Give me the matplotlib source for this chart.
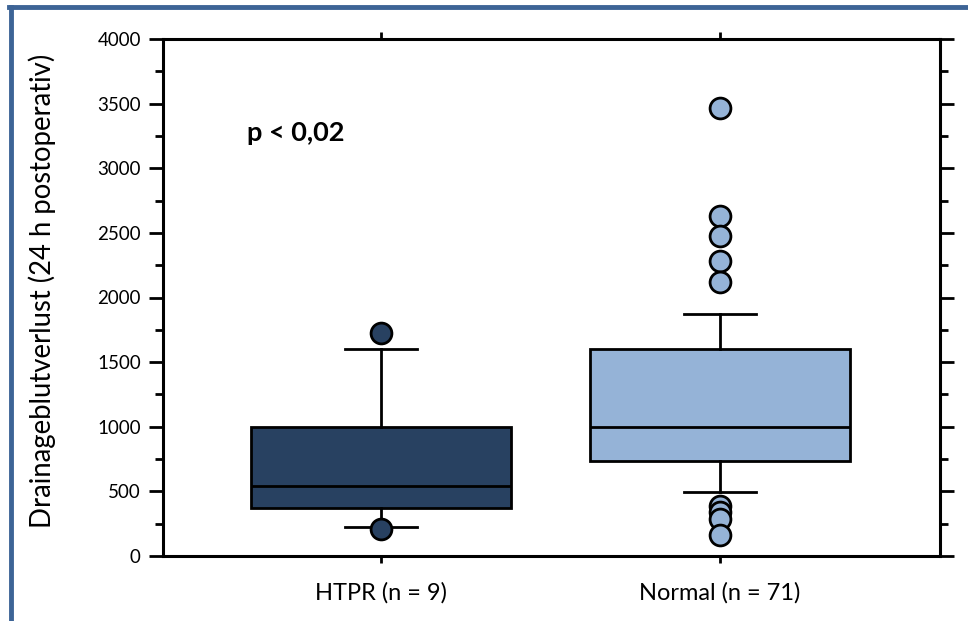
import matplotlib
matplotlib.use("Agg")
import matplotlib.pyplot as plt
from matplotlib.ticker import MultipleLocator

# ---- data ----
categories = ["HTPR (n = 9)", "Normal (n = 71)"]
q1 = [373, 733]
median = [540, 1000]
q3 = [1000, 1604]
whisker_low = [226, 497]
whisker_high = [1604, 1874]
outliers = [
    [208, 1727],
    [3470, 2633, 2473, 2286, 2118, 390, 340, 283, 165],
]
box_colors = ["#284161", "#95b3d7"]
yticks = [0, 500, 1000, 1500, 2000, 2500, 3000, 3500, 4000]
ylabel = "Drainageblutverlust (24 h postoperativ)"
annotation = "p < 0,02"

plt.rcParams["font.family"] = ["Lato", "DejaVu Sans"]

fig = plt.figure(figsize=(9.68, 6.21), dpi=100)
ax = fig.add_axes([163 / 968, 1 - 556 / 621, (940 - 163) / 968, (556 - 39) / 621])

positions = [1, 2]
stats = []
for i in range(2):
    stats.append(dict(med=median[i], q1=q1[i], q3=q3[i],
                      whislo=whisker_low[i], whishi=whisker_high[i],
                      fliers=outliers[i], label=categories[i]))
res = ax.bxp(stats, positions=positions, widths=0.767, patch_artist=True,
             showfliers=False, capwidths=0.212, manage_ticks=False,
             boxprops=dict(linewidth=2.0, edgecolor="black"),
             medianprops=dict(color="black", linewidth=2.0),
             whiskerprops=dict(color="black", linewidth=2.0),
             capprops=dict(color="black", linewidth=2.0))
for patch, c in zip(res["boxes"], box_colors):
    patch.set_facecolor(c)
    patch.set_zorder(2)

for i, pts in enumerate(outliers):
    ax.plot([positions[i]] * len(pts), pts, linestyle="none", marker="o",
            markersize=15, markerfacecolor=box_colors[i],
            markeredgecolor="black", markeredgewidth=2.0, zorder=4,
            clip_on=False)

ax.set_xlim(1 - 218 / 339, 2 + 220 / 339)
ax.set_ylim(0, 4000)
ax.set_yticks(yticks)
ax.set_yticklabels([str(v) for v in yticks], fontsize=13.5)
ax.yaxis.set_minor_locator(MultipleLocator(250))
ax.set_xticks(positions)
ax.set_xticklabels(categories, fontsize=17)
ax.tick_params(axis="x", which="major", direction="out", length=5, width=2,
               top=True, bottom=True, pad=14)
ax.tick_params(axis="y", which="major", direction="out", length=10, width=2,
               left=True, right=True, pad=6)
ax.tick_params(axis="y", which="minor", direction="out", length=6, width=2,
               left=True, right=True)
for s in ax.spines.values():
    s.set_linewidth(2.2)
ax.set_ylabel(ylabel, fontsize=19.8)
ax.yaxis.set_label_coords(-0.138, 0.5126)

ax.text(1 - 218 / 339 + 84 / 339, 3270, annotation, fontsize=19.5,
        fontweight="bold", ha="left", va="center")

# outer frame (top and left edges)
fig.add_artist(plt.Line2D([9 / 968, 1], [1 - 7 / 621, 1 - 7 / 621],
                          color="#3d6496", linewidth=3.5,
                          transform=fig.transFigure))
fig.add_artist(plt.Line2D([11 / 968, 11 / 968], [0, 1 - 7 / 621],
                          color="#3d6496", linewidth=3.5,
                          transform=fig.transFigure))

fig.savefig("out.png", dpi=100)
